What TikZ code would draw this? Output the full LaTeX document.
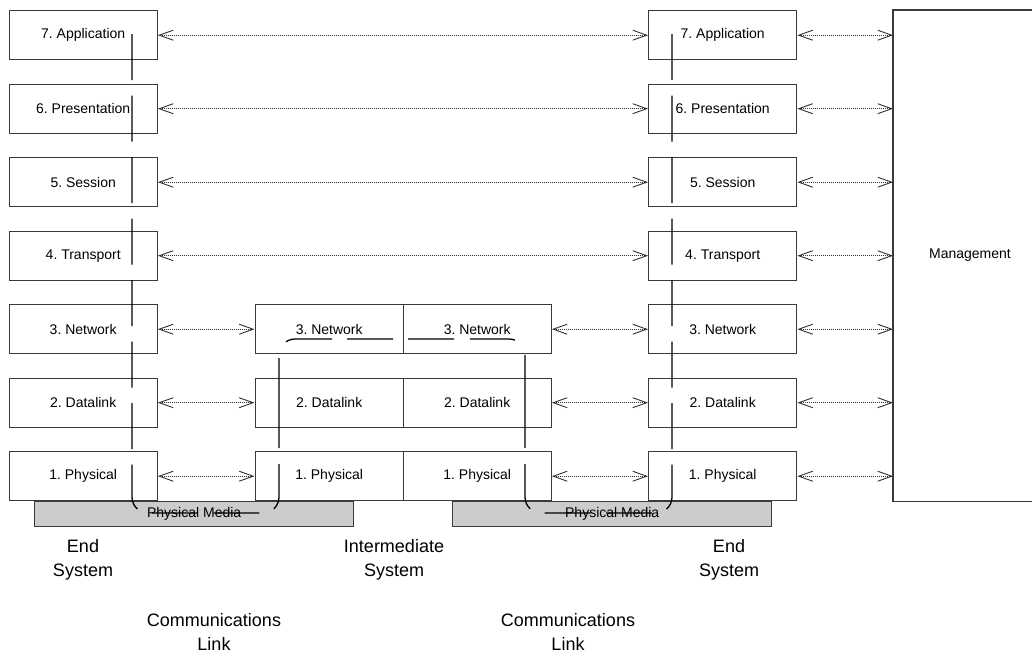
\documentclass[tikz,border=0pt]{standalone}
\usepackage{fontspec}
\setmainfont{Liberation Sans}
\usetikzlibrary{arrows.meta}
\definecolor{boxline}{HTML}{3A3A3A}
\definecolor{mediagray}{HTML}{CCCCCC}
\definecolor{dotline}{HTML}{303030}
\frenchspacing
\begin{document}
\begin{tikzpicture}[x=1pt,y=-1pt,
  layerbox/.style={draw=boxline, line width=1.4pt, fill=white, minimum width=148pt,
    minimum height=49pt, inner sep=0pt, anchor=north west, font=\fontsize{14}{16}\selectfont},
  mediabar/.style={draw=boxline, line width=1.4pt, fill=mediagray, minimum width=319pt,
    minimum height=25pt, inner sep=0pt, anchor=north west, font=\fontsize{14}{16}\selectfont},
  peer/.style={dotline, line width=0.9pt, dash pattern=on 1pt off 1pt,
    {Straight Barb[length=14pt,width=10pt,line width=0.9pt]}-{Straight Barb[length=14pt,width=10pt,line width=0.9pt]}},
  route/.style={black, line width=1.3pt, rounded corners=16pt},
  caption/.style={align=center, inner sep=0pt, font=\fontsize{18}{24}\selectfont}]

\useasboundingbox (0,0) rectangle (1032,657);
\clip (0,0) rectangle (1032,657);

% end system A, intermediate system (two halves) and end system B
\foreach \n/\t [count=\k from 0] in {7/7. Application,6/6. Presentation,5/5. Session,
    4/4. Transport,3/3. Network,2/2. Datalink,1/1. Physical}{
  \node[layerbox] (a\n) at (8.5,10+73.5*\k) {\t};
  \node[layerbox] (b\n) at (648,10+73.5*\k) {\t};
}
\foreach \n/\t [count=\k from 4] in {3/3. Network,2/2. Datalink,1/1. Physical}{
  \node[layerbox] (i\n) at (254.5,10+73.5*\k) {\t};
  \node[layerbox] (j\n) at (402.5,10+73.5*\k) {\t};
}

% management plane (runs off the right edge)
\node[fill=white, minimum width=154pt, minimum height=491pt, inner sep=0pt,
  anchor=north west] (mgmt) at (893,10) {};
\draw[boxline, line width=1.4pt] (mgmt.north east) -- (mgmt.north west)
  -- (mgmt.south west) -- (mgmt.south east);
\node[font=\fontsize{14}{16}\selectfont] (mgmtlabel) at (970,255) {Management};

% physical media
\node[mediabar] (mediaL) at (34,501) {Physical Media};
\node[mediabar] (mediaR) at (452,501) {Physical Media};

% peer-to-peer protocol exchanges
\foreach \n in {7,6,5,4}{
  \draw[peer] (a\n.east) -- (b\n.west);
}
\foreach \n in {3,2,1}{
  \draw[peer] (a\n.east) -- (i\n.west);
  \draw[peer] (j\n.east) -- (b\n.west);
}
\foreach \n in {7,6,5,4,3,2,1}{
  \draw[peer] (b\n.east) -- (b\n.east -| mgmt.west);
}

% data path through the stacks and across the media
\coordinate (pa) at (132,34);
\coordinate (pb) at (132,513);
\coordinate (pc) at (279,513);
\coordinate (pd) at (279,456);
\coordinate (pe) at (279,448);
\coordinate (pf) at (279,339);
\coordinate (pg) at (525,339);
\coordinate (ph) at (525,448);
\coordinate (pi) at (525,456);
\coordinate (pj) at (525,513);
\coordinate (pk) at (672,513);
\coordinate (pl) at (672,34);
\draw[route, dash pattern=on 46pt off 15.5pt] (pa) -- (pb) -- (pc) -- (pd);
\draw[route, dash pattern=on 46pt off 15.5pt] (pl) -- (pk) -- (pj) -- (pi);
\draw[route, dash pattern=on 90pt off 18.6pt on 46.5pt off 15pt on 46pt off 15pt
  on 46pt off 16pt on 45pt off 19pt on 100pt off 10pt] (pe) -- (pf) -- (pg) -- (ph);

% captions
\node[caption] (endA) at (83,560) {End\\System};
\node[caption] (inter) at (394,560) {Intermediate\\System};
\node[caption] (endB) at (729,560) {End\\System};
\node[caption] (linkA) at (214,632) {Communications\\Link};
\node[caption] (linkB) at (568,632) {Communications\\Link};
\end{tikzpicture}
\end{document}
